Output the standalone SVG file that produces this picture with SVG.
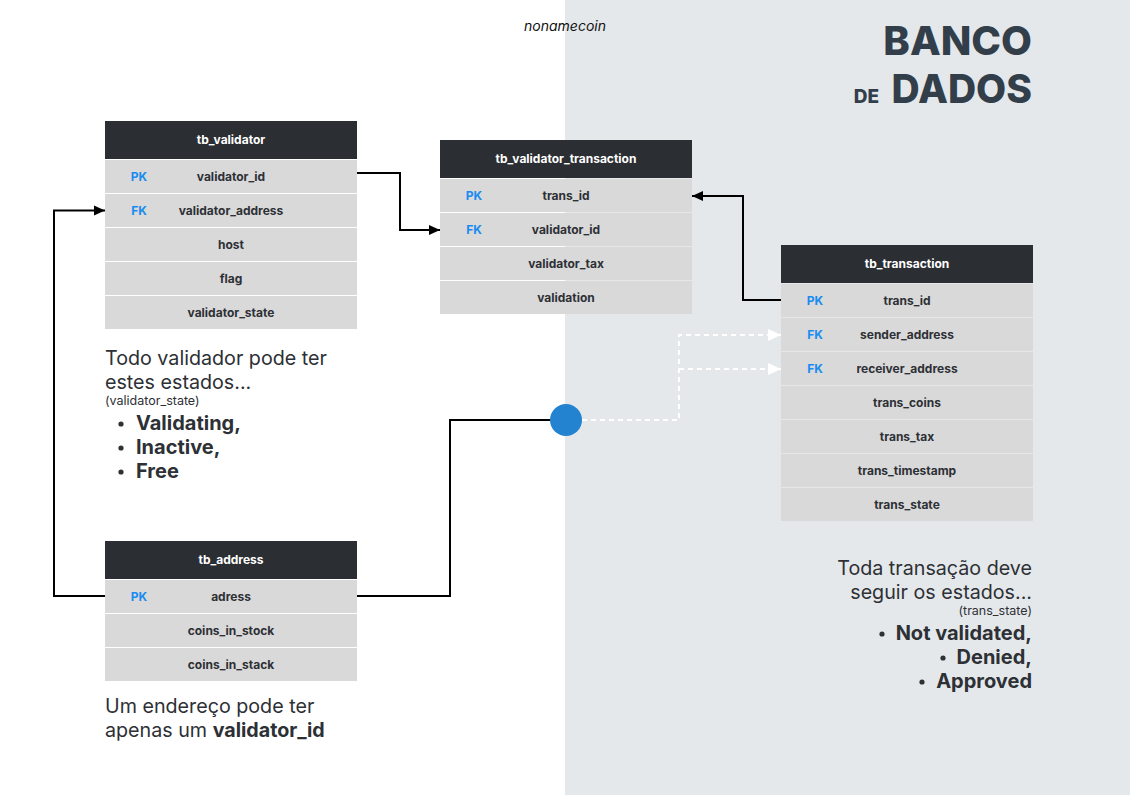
<svg xmlns="http://www.w3.org/2000/svg" width="1130" height="795" viewBox="0 0 1130 795">
<style>
.hdr{fill:#2b2e33}
.row{fill:#d9d9d9}
.ht{font-family:Inter,"Liberation Sans",sans-serif;font-size:12px;font-weight:700;fill:#ffffff;text-anchor:middle}
.ft{font-family:Inter,"Liberation Sans",sans-serif;font-size:12px;font-weight:700;fill:#2d3035;text-anchor:middle}
.key{font-family:Inter,"Liberation Sans",sans-serif;font-size:12px;font-weight:700;fill:#1a8cf0;text-anchor:middle}
.note{font-family:Inter,"Liberation Sans",sans-serif;font-size:19.7px;fill:#2d3035}
.small{font-family:Inter,"Liberation Sans",sans-serif;font-size:12.5px;fill:#2d3035}
.bul{font-family:Inter,"Liberation Sans",sans-serif;font-size:20px;font-weight:700;fill:#2d3035}
.title{font-family:Inter,"Liberation Sans",sans-serif;font-weight:800;fill:#323f4b;text-anchor:end}
.conn{fill:none;stroke:#000;stroke-width:2}
.dash{fill:none;stroke:#ffffff;stroke-width:2;stroke-dasharray:5 4}
</style>
<defs>
<marker id="arr" markerUnits="userSpaceOnUse" markerWidth="12" markerHeight="12" refX="11" refY="6" orient="auto">
<path d="M0,1 L11,6 L0,11 Z" fill="#000"/>
</marker>
<marker id="arrw" markerUnits="userSpaceOnUse" markerWidth="14" markerHeight="14" refX="13" refY="7" orient="auto">
<path d="M0,1 L13,7 L0,13 Z" fill="#ffffff"/>
</marker>
</defs>
<rect x="0" y="0" width="1130" height="795" fill="#ffffff"/>
<rect x="565" y="0" width="565" height="795" fill="#e5e8eb"/>

<text x="565" y="31" font-family="Inter,'Liberation Sans',sans-serif" font-size="14" font-style="italic" fill="#111" text-anchor="middle">nonamecoin</text>
<text class="title" x="1032" y="55" font-size="40">BANCO</text>
<text class="title" x="1032" y="103" font-size="39">DADOS</text>
<text class="title" x="879" y="103" font-size="19">DE</text>

<g id="connectors">
<path class="conn" d="M357,173 H400 V230 H440" marker-end="url(#arr)"/>
<path class="conn" d="M781,300 H743 V196 H692" marker-end="url(#arr)"/>
<path class="conn" d="M357,596 H450 V420 H552"/>
<path class="conn" d="M105,596 H54 V210.5 H105" marker-end="url(#arr)"/>
<path class="dash" d="M582,420 H679 V335 H781" marker-end="url(#arrw)"/>
<path class="dash" d="M679,369 H781" marker-end="url(#arrw)"/>
<circle cx="566" cy="420" r="16" fill="#2383d1"/>
</g>

<g id="tb_validator">
<rect class="hdr" x="105" y="121" width="252" height="38"/>
<text class="ht" x="231" y="144">tb_validator</text>
<rect class="row" x="105" y="160" width="252" height="33"/>
<rect class="row" x="105" y="194" width="252" height="33"/>
<rect class="row" x="105" y="228" width="252" height="33"/>
<rect class="row" x="105" y="262" width="252" height="33"/>
<rect class="row" x="105" y="296" width="252" height="33"/>
<text class="key" x="139" y="181">PK</text>
<text class="ft" x="231" y="181">validator_id</text>
<text class="key" x="139" y="215">FK</text>
<text class="ft" x="231" y="215">validator_address</text>
<text class="ft" x="231" y="249">host</text>
<text class="ft" x="231" y="283">flag</text>
<text class="ft" x="231" y="317">validator_state</text>
</g>

<g id="tb_validator_transaction">
<rect class="hdr" x="440" y="140" width="252" height="38"/>
<text class="ht" x="566" y="163">tb_validator_transaction</text>
<rect class="row" x="440" y="179" width="252" height="33"/>
<rect class="row" x="440" y="213" width="252" height="33"/>
<rect class="row" x="440" y="247" width="252" height="33"/>
<rect class="row" x="440" y="281" width="252" height="33"/>
<text class="key" x="474" y="200">PK</text>
<text class="ft" x="566" y="200">trans_id</text>
<text class="key" x="474" y="234">FK</text>
<text class="ft" x="566" y="234">validator_id</text>
<text class="ft" x="566" y="268">validator_tax</text>
<text class="ft" x="566" y="302">validation</text>
</g>

<g id="tb_transaction">
<rect class="hdr" x="781" y="245" width="252" height="38"/>
<text class="ht" x="907" y="268">tb_transaction</text>
<rect class="row" x="781" y="284" width="252" height="33"/>
<rect class="row" x="781" y="318" width="252" height="33"/>
<rect class="row" x="781" y="352" width="252" height="33"/>
<rect class="row" x="781" y="386" width="252" height="33"/>
<rect class="row" x="781" y="420" width="252" height="33"/>
<rect class="row" x="781" y="454" width="252" height="33"/>
<rect class="row" x="781" y="488" width="252" height="33"/>
<text class="key" x="815" y="305">PK</text>
<text class="ft" x="907" y="305">trans_id</text>
<text class="key" x="815" y="339">FK</text>
<text class="ft" x="907" y="339">sender_address</text>
<text class="key" x="815" y="373">FK</text>
<text class="ft" x="907" y="373">receiver_address</text>
<text class="ft" x="907" y="407">trans_coins</text>
<text class="ft" x="907" y="441">trans_tax</text>
<text class="ft" x="907" y="475">trans_timestamp</text>
<text class="ft" x="907" y="509">trans_state</text>
</g>

<g id="tb_address">
<rect class="hdr" x="105" y="541" width="252" height="38"/>
<text class="ht" x="231" y="564">tb_address</text>
<rect class="row" x="105" y="580" width="252" height="33"/>
<rect class="row" x="105" y="614" width="252" height="33"/>
<rect class="row" x="105" y="648" width="252" height="33"/>
<text class="key" x="139" y="601">PK</text>
<text class="ft" x="231" y="601">adress</text>
<text class="ft" x="231" y="635">coins_in_stock</text>
<text class="ft" x="231" y="669">coins_in_stack</text>
</g>

<g id="note_validator">
<text class="note" x="105" y="365">Todo validador pode ter</text>
<text class="note" x="105" y="389">estes estados...</text>
<text class="small" x="105" y="405">(validator_state)</text>
<circle cx="121" cy="424" r="2.6" fill="#2d3035"/>
<text class="bul" x="136" y="430">Validating,</text>
<circle cx="121" cy="448" r="2.6" fill="#2d3035"/>
<text class="bul" x="136" y="454">Inactive,</text>
<circle cx="121" cy="472" r="2.6" fill="#2d3035"/>
<text class="bul" x="136" y="478">Free</text>
</g>

<g id="note_transaction">
<text class="note" x="1032" y="575" text-anchor="end">Toda transação deve</text>
<text class="note" x="1032" y="599" text-anchor="end">seguir os estados...</text>
<text class="small" x="1032" y="615" text-anchor="end">(trans_state)</text>
<circle cx="882" cy="634" r="2.6" fill="#2d3035"/>
<text class="bul" x="1032" y="640" text-anchor="end">Not validated,</text>
<circle cx="943" cy="658" r="2.6" fill="#2d3035"/>
<text class="bul" x="1032" y="664" text-anchor="end">Denied,</text>
<circle cx="922" cy="682" r="2.6" fill="#2d3035"/>
<text class="bul" x="1032" y="688" text-anchor="end">Approved</text>
</g>

<g id="note_address">
<text class="note" x="105" y="713">Um endereço pode ter</text>
<text class="note" x="105" y="737">apenas um <tspan font-weight="700">validator_id</tspan></text>
</g>
</svg>
